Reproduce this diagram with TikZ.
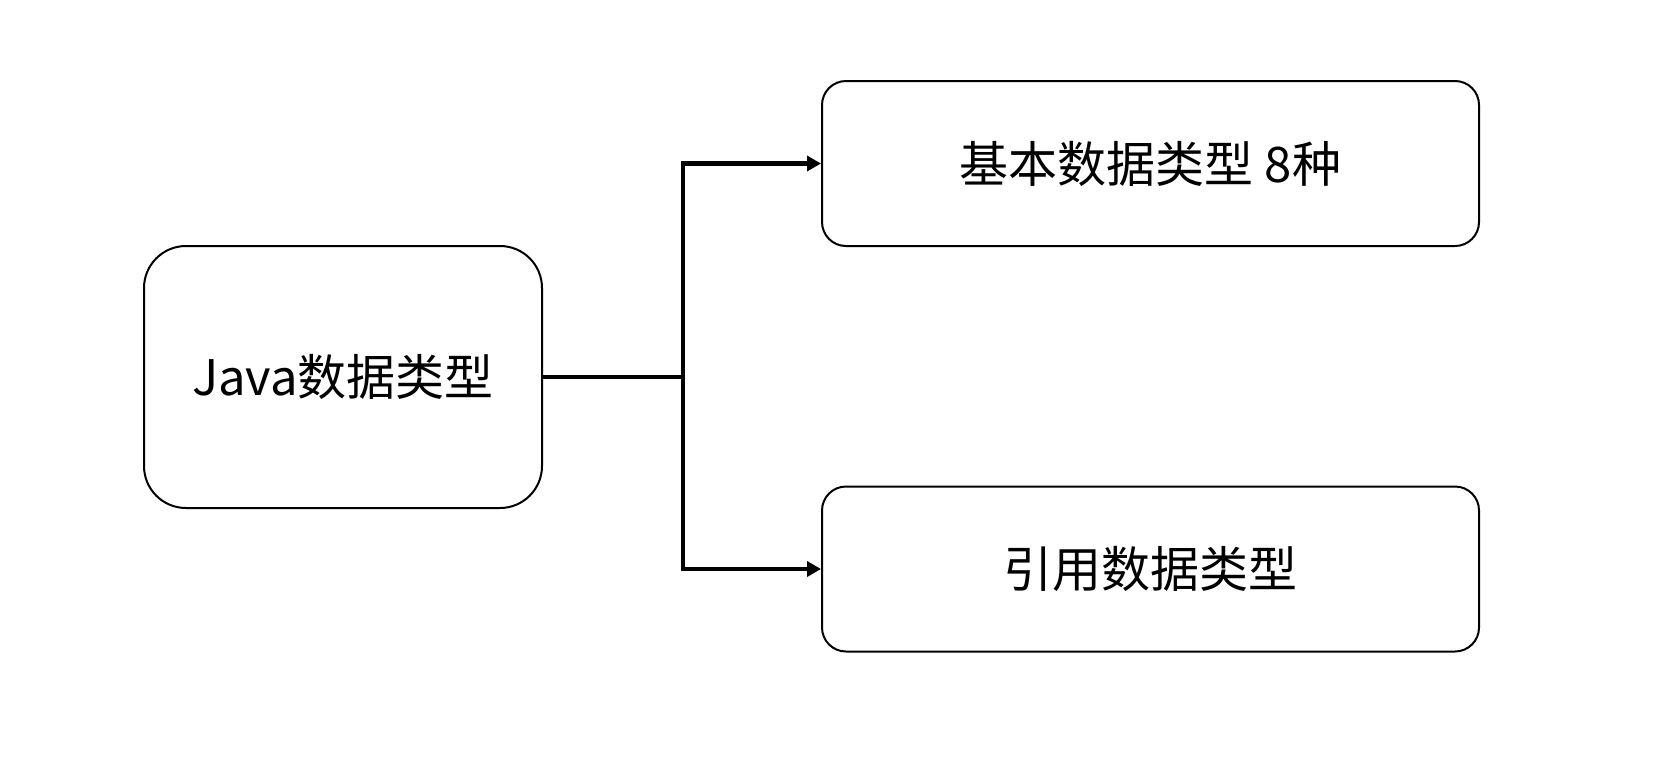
\documentclass[tikz,border=0pt]{standalone}
\usepackage{fontspec}
\setmainfont{Noto Sans CJK SC}
\usetikzlibrary{arrows.meta}
\tikzset{
  box/.style={draw, line width=2pt, inner sep=0pt, font=\fontsize{49}{58}\selectfont},
  conn/.style={line width=4.5pt, -{Triangle[length=14pt,width=15pt]}},
  trunk/.style={line width=4.5pt}
}
\begin{document}
\begin{tikzpicture}[x=1pt,y=-1pt]
\useasboundingbox (0,0) rectangle (1653,777);
\fill[white] (0,0) rectangle (1653,777);
\node[box, rounded corners=42pt, minimum width=398pt, minimum height=262pt] (J) at (343,377) {Java数据类型};
\node[box, rounded corners=24pt, minimum width=657pt, minimum height=165pt] (B) at (1150.5,163.5) {基本数据类型 8种};
\node[box, rounded corners=24pt, minimum width=657pt, minimum height=165pt] (R) at (1150.5,569) {引用数据类型};
\coordinate (split) at (683,377);
\draw[trunk] (J.east) -- (split);
\draw[conn] (split) |- (B.west);
\draw[conn] (split) |- (R.west);
\end{tikzpicture}
\end{document}
